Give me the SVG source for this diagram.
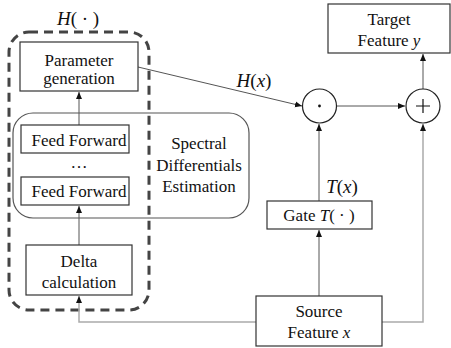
<svg xmlns="http://www.w3.org/2000/svg" width="451" height="348" viewBox="0 0 451 348">
<style>
  .box{fill:#fff;stroke:#333;stroke-width:1.2}
  .t{font-family:'Liberation Serif','Times New Roman','DejaVu Serif',serif;font-size:17px;fill:#111;text-anchor:middle}
  .c{fill:none;stroke:#555;stroke-width:1}
  .cl{fill:none;stroke:#aaa;stroke-width:1.5}
  .it{font-style:italic}
</style>
<defs>
  <marker id="ah" markerWidth="8" markerHeight="8" refX="7" refY="4" orient="auto" markerUnits="userSpaceOnUse">
    <path d="M0,1 L7,4 L0,7 z" fill="#111"/>
  </marker>
</defs>
<rect width="451" height="348" fill="#fff"/>
<g id="H-container">
  <rect x="9" y="32" width="140" height="278" rx="20" ry="20" fill="none" stroke="#444" stroke-width="3" stroke-dasharray="9,6"/>
  <text class="t" x="78" y="25" style="font-size:19px"><tspan class="it">H</tspan>( · )</text>
</g>
<g id="spectral">
  <rect x="13" y="113" width="236" height="105" rx="20" ry="20" fill="none" stroke="#555" stroke-width="1.2"/>
  <text class="t" x="199" y="149">Spectral</text>
  <text class="t" x="199" y="171">Differentials</text>
  <text class="t" x="199" y="192">Estimation</text>
</g>
<g id="connectors">
  <path class="c" d="M79,125 L79,92" marker-end="url(#ah)"/>
  <path class="c" d="M79,245 L79,206" marker-end="url(#ah)"/>
  <path class="cl" d="M256,322 L79,322 L79,296" marker-end="url(#ah)"/>
  <path class="c" d="M138,67 L302,106" marker-end="url(#ah)"/>
  <path class="c" d="M336,106 L405,106" marker-end="url(#ah)"/>
  <path class="c" d="M423,89 L423,54" marker-end="url(#ah)"/>
  <path class="c" d="M319,201 L319,124" marker-end="url(#ah)"/>
  <path class="c" d="M319,296 L319,230" marker-end="url(#ah)"/>
  <path class="cl" d="M382,322 L423,322 L423,124" marker-end="url(#ah)"/>
  <text class="t" x="254" y="87" style="font-size:19px"><tspan class="it">H</tspan>(<tspan class="it">x</tspan>)</text>
  <text class="t" x="342" y="193" style="font-size:19px"><tspan class="it">T</tspan>(<tspan class="it">x</tspan>)</text>
</g>
<g id="param-gen">
  <rect class="box" x="20" y="42" width="118" height="49"/>
  <text class="t" x="79" y="66">Parameter</text>
  <text class="t" x="79" y="84">generation</text>
</g>
<g id="ff1">
  <rect class="box" x="21" y="125" width="108" height="28"/>
  <text class="t" x="79" y="146">Feed Forward</text>
</g>
<g id="dots">
  <text class="t" x="79" y="168">…</text>
</g>
<g id="ff2">
  <rect class="box" x="21" y="177" width="108" height="28"/>
  <text class="t" x="79" y="197">Feed Forward</text>
</g>
<g id="delta">
  <rect class="box" x="26" y="245" width="106" height="50"/>
  <text class="t" x="79" y="267">Delta</text>
  <text class="t" x="79" y="288">calculation</text>
</g>
<g id="source">
  <rect class="box" x="256" y="296" width="126" height="50"/>
  <text class="t" x="319" y="317">Source</text>
  <text class="t" x="319" y="338">Feature <tspan class="it">x</tspan></text>
</g>
<g id="gate">
  <rect class="box" x="267" y="201" width="105" height="28"/>
  <text class="t" x="319" y="221">Gate <tspan class="it">T</tspan>( · )</text>
</g>
<g id="mult">
  <circle cx="319.5" cy="106" r="17" fill="#fff" stroke="#222" stroke-width="1.2"/>
  <circle cx="319.5" cy="106" r="1.4" fill="#111"/>
</g>
<g id="plus">
  <circle cx="423" cy="106" r="17" fill="#fff" stroke="#222" stroke-width="1.2"/>
  <path d="M416,106 L430,106 M423,99 L423,113" stroke="#111" stroke-width="1.2"/>
</g>
<g id="target">
  <rect class="box" x="328" y="4" width="122" height="49"/>
  <text class="t" x="389" y="25">Target</text>
  <text class="t" x="389" y="46">Feature <tspan class="it">y</tspan></text>
</g>
</svg>
